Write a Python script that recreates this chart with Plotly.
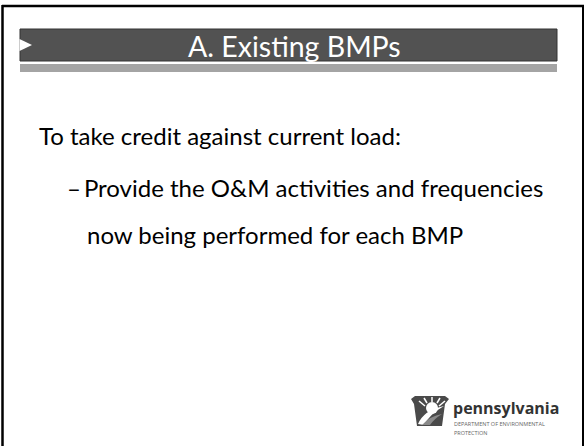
import plotly.graph_objects as go

W, H = 585, 446

title_text = "A. Existing BMPs"
body_lines = ["To take credit against current load:",
              "\u2013\u2009Provide the O&M activities and frequencies",
              "now being performed for each BMP"]
body_x = [37, 65, 85]
body_y = [135, 187, 234]
logo_main = "pennsylvania"
logo_sub = ["DEPARTMENT OF ENVIRONMENTAL", "PROTECTION"]

fig = go.Figure()
fig.add_trace(go.Scatter(x=[0, W], y=[0, H], mode="markers", marker=dict(opacity=0), hoverinfo="skip", showlegend=False))

shapes = []
# border
shapes.append(dict(type="line", x0=2.5, y0=5, x1=2.5, y1=H, line=dict(color="black", width=2.5)))
shapes.append(dict(type="line", x0=2, y0=6, x1=584, y1=6, line=dict(color="black", width=2.5)))
shapes.append(dict(type="line", x0=583, y0=5, x1=583, y1=H, line=dict(color="black", width=2)))
# header bar
shapes.append(dict(type="rect", x0=20, y0=29, x1=557, y1=61, fillcolor="#525252", line=dict(color="#333", width=1)))
shapes.append(dict(type="path", path="M 19.5 39 L 32 45 L 19.5 51 Z", fillcolor="white", line=dict(width=0)))
shapes.append(dict(type="rect", x0=20, y0=64, x1=557, y1=72, fillcolor="#a4a4a4", line=dict(width=0)))
# logo keystone
shapes.append(dict(type="path", path="M 411 399 L 415 396 L 445 396 L 449 399 L 445 404 L 442 426 L 417 426 L 414 404 Z",
                   fillcolor="#4a4a4a", line=dict(width=0)))
# sun and rays
shapes.append(dict(type="circle", x0=426, y0=402, x1=438, y1=414, fillcolor="white", line=dict(width=0)))
for (xa, ya, xb, yb) in [(432, 402, 432, 397), (427, 403, 424, 398), (437, 403, 440, 398),
                         (425, 406, 419, 401), (439, 406, 445, 401)]:
    shapes.append(dict(type="line", x0=xa, y0=ya, x1=xb, y1=yb, line=dict(color="white", width=1.5)))
# swoosh
shapes.append(dict(type="path", path="M 418 424 Q 424 410 444 406 Q 430 414 424 425 Z", fillcolor="white", line=dict(width=0)))
shapes.append(dict(type="path", path="M 422 425 Q 430 416 442 414 Q 434 419 430 425 Z", fillcolor="#8a8a8a", line=dict(width=0)))

annotations = []
annotations.append(dict(x=294, y=46, text=title_text, showarrow=False, xanchor="center", yanchor="middle",
                        font=dict(family="Lato", size=28.5, color="white")))
for t, x, y in zip(body_lines, body_x, body_y):
    annotations.append(dict(x=x, y=y, text=t, showarrow=False, xanchor="left", yanchor="middle",
                            font=dict(family="Lato", size=24, color="black")))
annotations.append(dict(x=451, y=408, text="<b>" + logo_main + "</b>", showarrow=False, xanchor="left", yanchor="middle",
                        font=dict(family="Open Sans", size=16, color="#333333")))
annotations.append(dict(x=452, y=424, text=logo_sub[0], showarrow=False, xanchor="left", yanchor="middle",
                        font=dict(family="Open Sans", size=5.5, color="#666666")))
annotations.append(dict(x=452, y=433, text=logo_sub[1], showarrow=False, xanchor="left", yanchor="middle",
                        font=dict(family="Open Sans", size=5.5, color="#666666")))

fig.update_layout(width=W, height=H, margin=dict(l=0, r=0, t=0, b=0),
                  paper_bgcolor="white", plot_bgcolor="white",
                  xaxis=dict(range=[0, W], visible=False, fixedrange=True),
                  yaxis=dict(range=[H, 0], visible=False, fixedrange=True),
                  shapes=shapes, annotations=annotations, showlegend=False)
fig.write_html("out.html", config={"displayModeBar": False},
               post_script="document.body.style.margin='0';document.body.style.overflow='hidden';")
